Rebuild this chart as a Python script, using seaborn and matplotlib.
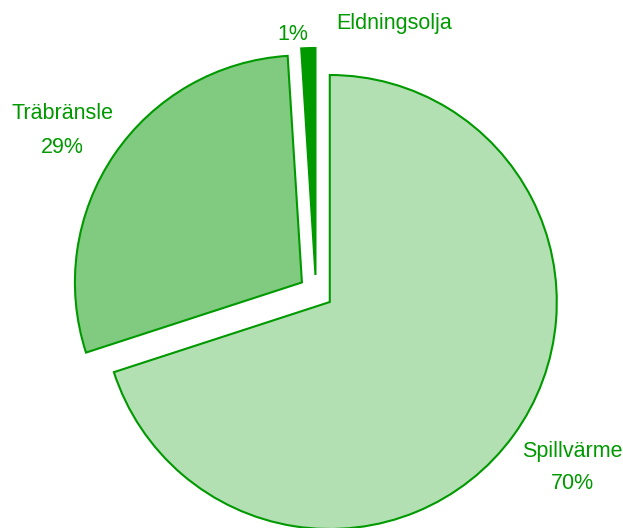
import matplotlib
matplotlib.use("Agg")
import matplotlib.pyplot as plt
import seaborn as sns

# data
categories = ["Spillvärme", "Träbränsle", "Eldningsolja"]
shares = [70, 29, 1]
fill_colors = ["#b3e0b3", "#80cb80", "#009900"]
edge_color = "#009900"

sns.set_theme(style="white")
plt.rcParams['font.family'] = ['Liberation Sans', 'DejaVu Sans']

fig = plt.figure(figsize=(6.23, 5.28), dpi=100)
ax = fig.add_axes([0, 0, 1, 1])

R = 227.0  # pie radius in pixels
cx, cy = 316.0, 292.0  # pie centre in pixels (from top-left)

wedges, _ = ax.pie(
    shares,
    colors=fill_colors,
    startangle=90,
    counterclock=False,
    explode=[0.075] * len(shares),
    wedgeprops=dict(edgecolor=edge_color, linewidth=1.5),
    radius=1.0,
)

ax.set_xlim(-cx / R, (623 - cx) / R)
ax.set_ylim(-(528 - cy) / R, cy / R)
ax.set_aspect("equal")
ax.axis("off")

# label positions (name line, percent line), baseline anchored
txt = dict(color=edge_color, fontsize=15.5, ha="center", va="baseline")
ax.text(1.128, -0.729, categories[0], **txt)
ax.text(1.128, -0.868, f"{shares[0]}%", **txt)
ax.text(-1.115, 0.764, categories[1], **txt)
ax.text(-1.119, 0.612, f"{shares[1]}%", **txt)
ax.text(0.344, 1.159, categories[2], **txt)
ax.text(-0.101, 1.110, f"{shares[2]}%", **txt)

fig.savefig("out.png", dpi=100)
